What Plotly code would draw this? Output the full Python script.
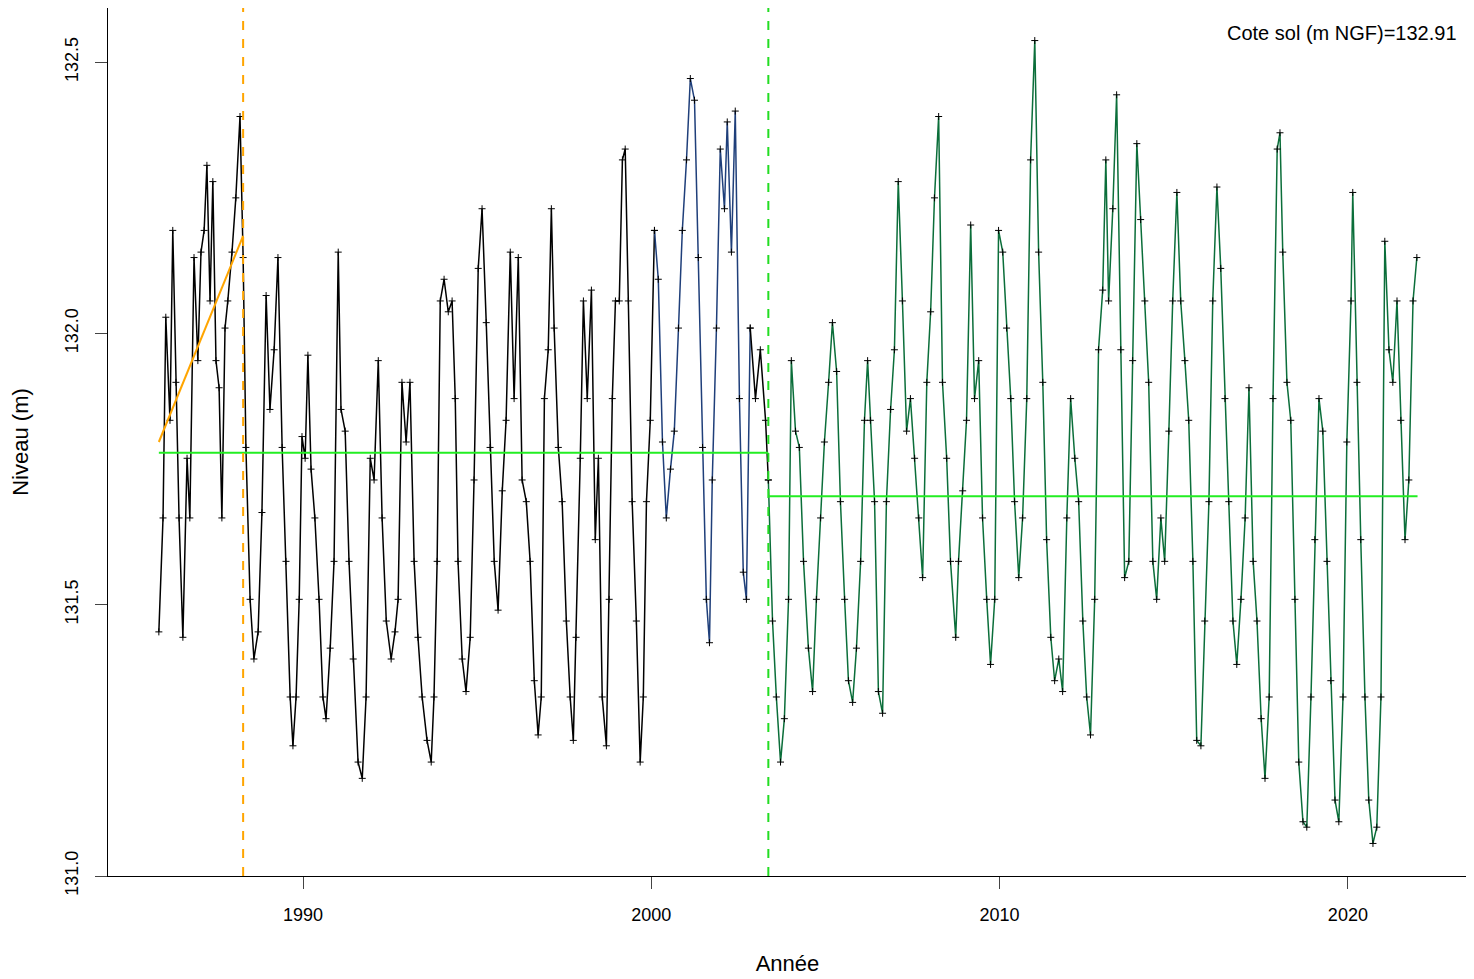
import plotly.graph_objects as go

# Black segment (1985-2000)
yr_a = [1985.86, 1985.98, 1986.06, 1986.18, 1986.26, 1986.35, 1986.44, 1986.55, 1986.67, 1986.75, 1986.87, 1986.98,
        1987.07, 1987.16, 1987.24, 1987.33, 1987.41, 1987.50, 1987.59, 1987.67, 1987.76, 1987.84, 1987.96, 1988.07,
        1988.19, 1988.28, 1988.36, 1988.48, 1988.59, 1988.71, 1988.82, 1988.94, 1989.05, 1989.17, 1989.28, 1989.40,
        1989.51, 1989.63, 1989.71, 1989.80, 1989.89, 1989.97, 1990.06, 1990.14, 1990.23, 1990.34, 1990.46, 1990.57,
        1990.66, 1990.78, 1990.89, 1991.01, 1991.09, 1991.21, 1991.32, 1991.44, 1991.58, 1991.70, 1991.81, 1991.93,
        1992.04, 1992.16, 1992.27, 1992.39, 1992.53, 1992.64, 1992.73, 1992.84, 1992.96, 1993.07, 1993.19, 1993.30,
        1993.42, 1993.56, 1993.68, 1993.76, 1993.85, 1993.94, 1994.05, 1994.17, 1994.28, 1994.37, 1994.45, 1994.57,
        1994.68, 1994.80, 1994.91, 1995.03, 1995.14, 1995.26, 1995.37, 1995.49, 1995.60, 1995.72, 1995.83, 1995.95,
        1996.06, 1996.18, 1996.29, 1996.41, 1996.52, 1996.64, 1996.75, 1996.84, 1996.93, 1997.04, 1997.13, 1997.21,
        1997.33, 1997.44, 1997.56, 1997.67, 1997.76, 1997.84, 1997.96, 1998.05, 1998.16, 1998.28, 1998.39, 1998.48,
        1998.59, 1998.71, 1998.79, 1998.88, 1998.97, 1999.08, 1999.17, 1999.25, 1999.34, 1999.45, 1999.57, 1999.68,
        1999.77, 1999.86, 1999.97, 2000.09]
niv_a = [131.45, 131.66, 132.03, 131.84, 132.19, 131.91, 131.66, 131.44, 131.77, 131.66, 132.14, 131.95,
         132.15, 132.19, 132.31, 132.06, 132.28, 131.95, 131.90, 131.66, 132.01, 132.06, 132.15, 132.25,
         132.40, 132.14, 131.79, 131.51, 131.40, 131.45, 131.67, 132.07, 131.86, 131.97, 132.14, 131.79,
         131.58, 131.33, 131.24, 131.33, 131.51, 131.81, 131.77, 131.96, 131.75, 131.66, 131.51, 131.33,
         131.29, 131.42, 131.58, 132.15, 131.86, 131.82, 131.58, 131.40, 131.21, 131.18, 131.33, 131.77,
         131.73, 131.95, 131.66, 131.47, 131.40, 131.45, 131.51, 131.91, 131.80, 131.91, 131.58, 131.44,
         131.33, 131.25, 131.21, 131.33, 131.58, 132.06, 132.10, 132.04, 132.06, 131.88, 131.58, 131.40,
         131.34, 131.44, 131.73, 132.12, 132.23, 132.02, 131.79, 131.58, 131.49, 131.71, 131.84, 132.15,
         131.88, 132.14, 131.73, 131.69, 131.58, 131.36, 131.26, 131.33, 131.88, 131.97, 132.23, 132.01,
         131.79, 131.69, 131.47, 131.33, 131.25, 131.44, 131.77, 132.06, 131.88, 132.08, 131.62, 131.77,
         131.33, 131.24, 131.51, 131.88, 132.06, 132.06, 132.32, 132.34, 132.06, 131.69, 131.47, 131.21,
         131.33, 131.69, 131.84, 132.19]

# Blue segment (2000-2002)
yr_b = [2000.09, 2000.20, 2000.32, 2000.43, 2000.55, 2000.66, 2000.78, 2000.89, 2001.01, 2001.12, 2001.24, 2001.35,
        2001.47, 2001.58, 2001.67, 2001.75, 2001.87, 2001.98, 2002.10, 2002.18, 2002.30, 2002.41, 2002.53, 2002.64,
        2002.73, 2002.84]
niv_b = [132.19, 132.10, 131.80, 131.66, 131.75, 131.82, 132.01, 132.19, 132.32, 132.47, 132.43, 132.14,
         131.79, 131.51, 131.43, 131.73, 132.01, 132.34, 132.23, 132.39, 132.15, 132.41, 131.88, 131.56,
         131.51, 132.01]

# Black again (2003)
yr_c = [2002.84, 2002.99, 2003.13, 2003.28, 2003.36]
niv_c = [132.01, 131.88, 131.97, 131.84, 131.73]

# Green segment (2003-2022)
yr_d = [2003.36, 2003.48, 2003.59, 2003.71, 2003.82, 2003.94, 2004.02, 2004.14, 2004.25, 2004.37, 2004.51, 2004.63,
        2004.74, 2004.86, 2004.97, 2005.09, 2005.20, 2005.32, 2005.43, 2005.55, 2005.66, 2005.78, 2005.89, 2006.01,
        2006.12, 2006.21, 2006.29, 2006.41, 2006.52, 2006.64, 2006.75, 2006.87, 2006.98, 2007.09, 2007.21, 2007.33,
        2007.44, 2007.56, 2007.68, 2007.79, 2007.91, 2008.02, 2008.13, 2008.25, 2008.36, 2008.48, 2008.59, 2008.74,
        2008.82, 2008.94, 2009.05, 2009.17, 2009.28, 2009.40, 2009.51, 2009.63, 2009.74, 2009.86, 2009.97, 2010.09,
        2010.20, 2010.32, 2010.43, 2010.55, 2010.66, 2010.78, 2010.89, 2011.01, 2011.12, 2011.24, 2011.35, 2011.47,
        2011.58, 2011.70, 2011.81, 2011.93, 2012.04, 2012.16, 2012.27, 2012.39, 2012.50, 2012.61, 2012.73, 2012.84,
        2012.96, 2013.05, 2013.13, 2013.25, 2013.36, 2013.48, 2013.59, 2013.71, 2013.82, 2013.94, 2014.05, 2014.17,
        2014.28, 2014.40, 2014.51, 2014.63, 2014.74, 2014.86, 2014.97, 2015.09, 2015.20, 2015.32, 2015.43, 2015.55,
        2015.66, 2015.78, 2015.89, 2016.01, 2016.12, 2016.24, 2016.35, 2016.47, 2016.58, 2016.70, 2016.81, 2016.93,
        2017.05, 2017.16, 2017.28, 2017.39, 2017.51, 2017.62, 2017.74, 2017.85, 2017.97, 2018.05, 2018.13, 2018.25,
        2018.36, 2018.48, 2018.59, 2018.71, 2018.82, 2018.94, 2019.05, 2019.17, 2019.28, 2019.40, 2019.51, 2019.63,
        2019.74, 2019.86, 2019.97, 2020.09, 2020.14, 2020.26, 2020.37, 2020.49, 2020.60, 2020.72, 2020.83, 2020.95,
        2021.06, 2021.18, 2021.29, 2021.41, 2021.52, 2021.64, 2021.75, 2021.87, 2021.98]
niv_d = [131.73, 131.47, 131.33, 131.21, 131.29, 131.51, 131.95, 131.82, 131.79, 131.58, 131.42, 131.34,
         131.51, 131.66, 131.80, 131.91, 132.02, 131.93, 131.69, 131.51, 131.36, 131.32, 131.42, 131.58,
         131.84, 131.95, 131.84, 131.69, 131.34, 131.30, 131.69, 131.86, 131.97, 132.28, 132.06, 131.82,
         131.88, 131.77, 131.66, 131.55, 131.91, 132.04, 132.25, 132.40, 131.91, 131.77, 131.58, 131.44,
         131.58, 131.71, 131.84, 132.20, 131.88, 131.95, 131.66, 131.51, 131.39, 131.51, 132.19, 132.15,
         132.01, 131.88, 131.69, 131.55, 131.66, 131.88, 132.32, 132.54, 132.15, 131.91, 131.62, 131.44,
         131.36, 131.40, 131.34, 131.66, 131.88, 131.77, 131.69, 131.47, 131.33, 131.26, 131.51, 131.97,
         132.08, 132.32, 132.06, 132.23, 132.44, 131.97, 131.55, 131.58, 131.95, 132.35, 132.21, 132.06,
         131.91, 131.58, 131.51, 131.66, 131.58, 131.82, 132.06, 132.26, 132.06, 131.95, 131.84, 131.58,
         131.25, 131.24, 131.47, 131.69, 132.06, 132.27, 132.12, 131.88, 131.69, 131.47, 131.39, 131.51,
         131.66, 131.90, 131.58, 131.47, 131.29, 131.18, 131.33, 131.88, 132.34, 132.37, 132.15, 131.91,
         131.84, 131.51, 131.21, 131.10, 131.09, 131.33, 131.62, 131.88, 131.82, 131.58, 131.36, 131.14,
         131.10, 131.33, 131.80, 132.06, 132.26, 131.91, 131.62, 131.33, 131.14, 131.06, 131.09, 131.33,
         132.17, 131.97, 131.91, 132.06, 131.84, 131.62, 131.73, 132.06, 132.14]

# Means and trend
mean1_x = [1985.86, 2003.36]
mean1_y = [131.78, 131.78]
mean2_x = [2003.36, 2022.0]
mean2_y = [131.70, 131.70]
trend_x = [1985.86, 1988.28]
trend_y = [131.80, 132.18]
rupture_orange = 1988.28
rupture_vert = 2003.36

fig = go.Figure()
for xs, ys, col in [(yr_a, niv_a, "black"), (yr_b, niv_b, "#1f3f7a"), (yr_c, niv_c, "black"), (yr_d, niv_d, "#0b6e3a")]:
    fig.add_trace(go.Scatter(x=xs, y=ys, mode="lines", line=dict(color=col, width=1.5)))
for xs, ys in [(yr_a, niv_a), (yr_b, niv_b), (yr_c, niv_c), (yr_d, niv_d)]:
    fig.add_trace(go.Scatter(x=xs, y=ys, mode="markers",
                             marker=dict(symbol="cross-thin", size=5, line=dict(color="black", width=1))))
fig.add_trace(go.Scatter(x=mean1_x, y=mean1_y, mode="lines", line=dict(color="#22ee22", width=2)))
fig.add_trace(go.Scatter(x=mean2_x, y=mean2_y, mode="lines", line=dict(color="#22ee22", width=2)))
fig.add_trace(go.Scatter(x=trend_x, y=trend_y, mode="lines", line=dict(color="orange", width=2)))

fig.add_vline(x=rupture_orange, line=dict(color="orange", width=2, dash="dash"))
fig.add_vline(x=rupture_vert, line=dict(color="#22dd22", width=2, dash="dash"))

fig.add_annotation(x=1, y=1, xref="paper", yref="paper", xanchor="right", yanchor="top",
                   xshift=-8, yshift=-12, text="Cote sol (m NGF)=132.91", showarrow=False,
                   font=dict(size=20, color="black"))

fig.update_layout(
    width=1474, height=979, showlegend=False,
    plot_bgcolor="white", paper_bgcolor="white",
    margin=dict(l=100, r=15, t=0, b=111, autoexpand=False),
    font=dict(family="Liberation Sans, Arial", size=18, color="black"),
    xaxis=dict(range=[1984.4, 2023.42], tickvals=[1990, 2000, 2010, 2020], ticks="outside", ticklen=12,
               ticklabelstandoff=10,
               showgrid=False, zeroline=False, showline=True, mirror=True, linecolor="black",
               automargin=False, title=dict(text="Année", standoff=32)),
    yaxis=dict(range=[131.0, 132.6], tickvals=[131.0, 131.5, 132.0, 132.5],
               ticktext=["131.0", "131.5", "132.0", "132.5"], tickangle=-90, ticks="outside", ticklen=12,
               ticklabelstandoff=10,
               showgrid=False, zeroline=False, showline=True, mirror=True, linecolor="black",
               automargin=False, title=dict(text="Niveau (m)", standoff=40)),
)
fig.write_html("out.html")
